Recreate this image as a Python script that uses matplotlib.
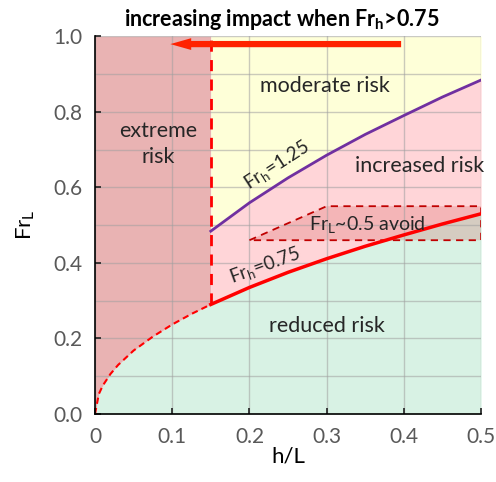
import matplotlib
matplotlib.use("Agg")
import matplotlib.pyplot as plt
import numpy as np

plt.rcParams["font.family"] = ["Lato", "DejaVu Sans"]
plt.rcParams["mathtext.fontset"] = "custom"
plt.rcParams["mathtext.rm"] = "Lato"
plt.rcParams["mathtext.bf"] = "Lato:bold"

# values
h_L = [0.0, 0.005, 0.01, 0.02, 0.03, 0.05, 0.075, 0.1, 0.125, 0.15,
       0.2, 0.25, 0.3, 0.35, 0.4, 0.45, 0.5]
fr_h075 = [0.0, 0.053, 0.075, 0.106, 0.130, 0.168, 0.205, 0.237, 0.265, 0.290,
           0.335, 0.375, 0.411, 0.444, 0.474, 0.503, 0.530]
h_L_hi = [0.15, 0.2, 0.25, 0.3, 0.35, 0.4, 0.45, 0.5]
fr_h125 = [0.484, 0.559, 0.625, 0.685, 0.740, 0.790, 0.839, 0.884]
avoid_x = [0.2, 0.3, 0.5, 0.5, 0.2]
avoid_y = [0.46, 0.55, 0.55, 0.46, 0.46]
h_limit = 0.15

h_L = np.array(h_L)
fr_h075 = np.array(fr_h075)
lo = h_L <= h_limit
hi = h_L >= h_limit

fig = plt.figure(figsize=(4.96, 4.82), dpi=100)
ax = fig.add_axes([0.1915, 0.141, 0.7785, 0.784])

ax.fill_between(h_L, 0, fr_h075, color="#d8f2e4", lw=0, zorder=1)
ax.fill_between(h_L[lo], fr_h075[lo], 1, color="#e9b3b3", lw=0, zorder=1)
ax.fill_between(h_L[hi], fr_h075[hi], fr_h125, color="#ffd5d8", lw=0, zorder=1)
ax.fill_between(h_L[hi], fr_h125, 1, color="#feffd8", lw=0, zorder=1)
ax.fill(avoid_x, avoid_y, color="#cc3535", alpha=0.2, lw=0, zorder=2)
ax.plot(avoid_x, avoid_y, color="#c00000", lw=1.3, ls=(0, (4, 3)), zorder=4)

ax.plot(h_L[lo], fr_h075[lo], color="#ff0000", lw=1.5, ls=(0, (3, 2)), zorder=4)
ax.plot(h_L[hi], fr_h075[hi], color="#ff0000", lw=2.5, zorder=4)
ax.plot(h_L_hi, fr_h125, color="#7030a0", lw=2, zorder=4)
ax.plot([h_limit, h_limit], [fr_h075[hi][0], 1.0], color="#ff0000", lw=2,
        ls=(0, (4, 3)), zorder=4)

ax.annotate("", xy=(0.094, 0.979), xytext=(0.4, 0.979),
            arrowprops=dict(arrowstyle="simple,head_length=1.5,head_width=0.85,tail_width=0.45",
                            color="#ff2200", lw=0, mutation_scale=10),
            zorder=5)

ax.set_xlim(0, 0.5)
ax.set_ylim(0, 1.0)
ax.set_xticks([0, 0.1, 0.2, 0.3, 0.4, 0.5])
ax.set_xticklabels(["0", "0.1", "0.2", "0.3", "0.4", "0.5"])
ax.set_yticks([0, 0.2, 0.4, 0.6, 0.8, 1.0])
ax.set_yticks(np.arange(0.1, 1.0, 0.2), minor=True)
ax.grid(True, which="both", color="#a0a0a0", alpha=0.55, lw=1, zorder=3)
ax.set_axisbelow(False)
for s in ["top", "right"]:
    ax.spines[s].set_visible(False)
for s in ["left", "bottom"]:
    ax.spines[s].set_color("black")
    ax.spines[s].set_linewidth(1.2)
    ax.spines[s].set_zorder(6)
ax.tick_params(direction="in", length=4, width=1.2, colors="#202020",
               labelcolor="#595959", labelsize=15, pad=9)
ax.tick_params(which="minor", length=0)

ax.set_xlabel("h/L", fontsize=16, labelpad=0)
ax.set_ylabel(r"Fr$_\mathregular{L}$", fontsize=16, labelpad=12)

txt = dict(fontsize=15.5, color="#262626", ha="center", va="center", zorder=7)
ax.text(0.298, 0.867, "moderate risk", **txt)
ax.text(0.082, 0.715, "extreme\nrisk", linespacing=1.35, **txt)
ax.text(0.42, 0.656, "increased risk", **txt)
ax.text(0.30, 0.233, "reduced risk", **txt)
ax.text(0.352, 0.50, r"Fr$_\mathregular{L}$~0.5 avoid", fontsize=14,
        color="#262626", ha="center", va="center", zorder=7)
ax.text(0.236, 0.656, r"Fr$_\mathregular{h}$=1.25", fontsize=13.5, rotation=33,
        color="#262626", ha="center", va="center", zorder=7)
ax.text(0.22, 0.39, r"Fr$_\mathregular{h}$=0.75", fontsize=13.5, rotation=20,
        color="#262626", ha="center", va="center", zorder=7)
ax.text(0.242, 1.012, r"increasing impact when Fr$_\mathregular{h}$>0.75",
        fontsize=15.5, fontweight="bold", color="black", ha="center",
        va="bottom", zorder=7)

fig.savefig("out.png", dpi=100)
